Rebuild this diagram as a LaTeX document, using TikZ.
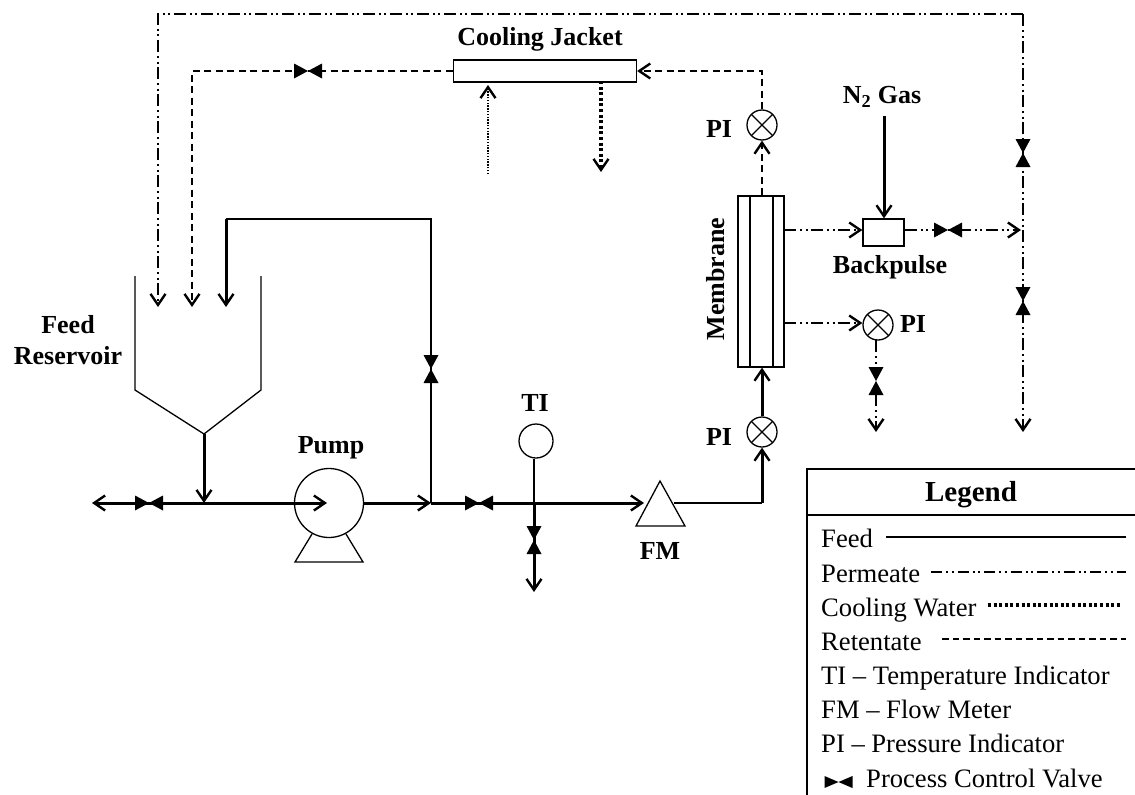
\documentclass[tikz,border=0pt]{standalone}
\usepackage{fontspec}
\setmainfont{Liberation Serif}
\usetikzlibrary{arrows.meta}
\tikzset{
  x=1pt,y=-1pt,
  >={Straight Barb[length=11pt,width=15pt,line width=2.4pt]},
  thickline/.style={line width=3pt},
  thinline/.style={line width=1.5pt},
  shapeline/.style={draw,line width=1.3pt},
  permeate/.style={line width=2.4pt,dash pattern=on 12pt off 4pt on 2pt off 3.5pt on 2pt off 3.5pt},
  retentate/.style={line width=2.3pt,dash pattern=on 7pt off 4.5pt},
  coolthin/.style={line width=1.4pt,dash pattern=on 1.4pt off 1.4pt},
  coolthick/.style={line width=3.2pt,dash pattern=on 3pt off 2.6pt},
  lab/.style={font=\fontsize{26}{29}\selectfont\bfseries,inner sep=0pt},
  leg/.style={font=\fontsize{26.6}{29}\selectfont,inner sep=0pt,anchor=base west},
  pi/.style={circle,shapeline,minimum size=30pt,inner sep=0pt,fill=white,
    path picture={\draw[line width=1.3pt] (path picture bounding box.north west)--(path picture bounding box.south east)
      (path picture bounding box.north east)--(path picture bounding box.south west);}},
  hvalve/.pic={\fill (-14,-7.5)--(14,7.5)--(14,-7.5)--(-14,7.5)--cycle;},
  vvalve/.pic={\fill (-7.5,-14)--(7.5,14)--(-7.5,14)--(7.5,-14)--cycle;},
  lvalve/.pic={\fill (-14,-6)--(14,6)--(14,-6)--(-14,6)--cycle;},
}
\begin{document}
\begin{tikzpicture}
\path[use as bounding box] (0,0) rectangle (1135,795);

% coordinates
\coordinate (topL) at (158,14);
\coordinate (topR) at (1023,14);
\coordinate (permIn) at (158,307);
\coordinate (permEnd) at (1023,432);
\coordinate (retTop) at (762,71);
\coordinate (retL) at (192,71);
\coordinate (retIn) at (192,307);
\coordinate (retnCorner) at (431,219);
\coordinate (retnL) at (226,219);
\coordinate (retnIn) at (226,307);
\coordinate (drain) at (92,503);
\coordinate (apex) at (204,434);
\coordinate (jct) at (204,503);
\coordinate (pumpIn) at (327,503);
\coordinate (tee) at (431,503);
\coordinate (tijct) at (534,503);
\coordinate (tidrain) at (534,592);
\coordinate (fmIn) at (644,503);
\coordinate (fmOut) at (674,503);
\coordinate (elbow) at (762,503);
\coordinate (coolInS) at (488,174);
\coordinate (coolInE) at (488,85);
\coordinate (coolOutS) at (601,81);
\coordinate (coolOutE) at (601,172);
\coordinate (n2) at (884,116);
\coordinate (memP1) at (784,230);
\coordinate (memP2) at (784,323);
\coordinate (rightJ) at (1021,230);
\coordinate (piDrain) at (876,432);
\coordinate (piDrainS) at (876,340);

% equipment
\node[shapeline,minimum width=183pt,minimum height=22pt,inner sep=0pt] (jacket) at (545,71) {};
\node[lab] (jacketlab) at (540,39) {Cooling Jacket};
\node[pi] (piTop) at (762,125) {};
\node[pi] (piBot) at (762,432) {};
\node[pi] (piRight) at (878,325) {};
\node[lab] (piTopLab) at (719,129) {PI};
\node[lab] (piBotLab) at (719,437) {PI};
\node[lab] (piRightLab) at (913,324) {PI};
\node[shapeline,minimum width=46pt,minimum height=171pt,inner sep=0pt] (mem) at (761,281.5) {};
\draw[line width=1.3pt] (750,196)--(750,367) (773,196)--(773,367);
\node[lab,rotate=90] (memlab) at (716,279) {Membrane};
\node[shapeline,minimum width=41pt,minimum height=27pt,inner sep=0pt] (bp) at (883.5,232.5) {};
\node[lab] (bplab) at (890,267) {Backpulse};
\node[lab] (n2lab) at (882,97) {N\textsubscript{2} Gas};
\node[lab,align=center] (feedlab) at (68,340) {Feed\\[2pt]Reservoir};
\node[lab] (pumplab) at (331,448) {Pump};
\node[lab] (tilab) at (535,403) {TI};
\node[lab] (fmlab) at (660,551) {FM};

% reservoir
\draw[line width=1.3pt] (135,276)--(135,390)--(apex)--(261,390)--(261,276);

% pump
\node[circle,shapeline,minimum size=69pt,inner sep=0pt] (pump) at (329,503) {};
\draw[line width=1.3pt] (312,534)--(295,562)--(363,562)--(346,534);

% TI, FM
\node[circle,shapeline,minimum size=34pt,inner sep=0pt] (ti) at (536,441) {};
\draw[line width=1.3pt] (660,481)--(636,526)--(685,526)--cycle;

% permeate
\draw[permeate,->] (topR)--(topL)--(permIn);
\draw[permeate,->] (topR)--(permEnd);
\draw[permeate,->] (memP1)--(bp.west |- memP1);
\draw[permeate,->] (bp.east |- rightJ)--(rightJ);
\draw[permeate,->] (memP2)--(piRight.west |- memP2);
\draw[permeate,->] (piDrainS)--(piDrain);

% retentate
\draw[retentate,->] (piTop.south |- mem.north)--(piTop.south);
\draw[retentate,->] (piTop.north)--(retTop)--(jacket.east);
\draw[retentate,->] (jacket.west)--(retL)--(retIn);

% cooling water
\draw[coolthin,->] (coolInS)--(coolInE);
\draw[coolthick,->] (coolOutS)--(coolOutE);

% feed
\draw[thinline] (tee)--(retnCorner)--(retnL);
\draw[thickline,->] (retnL)--(retnIn);
\draw[thickline,<->] (drain)--(pumpIn);
\draw[thickline,->] (apex)--(jct);
\draw[thickline,->] (pump.east)--(tee);
\draw[thickline,->] (tee)--(fmIn);
\draw[thinline] (ti.south -| tijct)--(tijct);
\draw[thickline,->] (tijct)--(tidrain);
\draw[thinline] (fmOut)--(elbow);
\draw[thickline,->] (elbow)--(piBot.south);
\draw[thickline,->] (piBot.north)--(piBot.north |- mem.south);
\draw[thickline,->] (n2)--(n2 |- bp.north);

% valves
\pic at (308,71) {hvalve};
\pic at (1023,153) {vvalve};
\pic at (1023,301) {vvalve};
\pic at (948,230) {hvalve};
\pic at (876,381) {vvalve};
\pic at (431,369) {vvalve};
\pic at (149,503) {hvalve};
\pic at (479,503) {hvalve};
\pic at (534,540) {vvalve};

% legend
\draw[line width=1.5pt] (807,795)--(807,469)--(1135,469);
\draw[line width=1.5pt] (807,515)--(1135,515);
\node[font=\fontsize{29}{32}\selectfont\bfseries,inner sep=0pt] (legtitle) at (971,495) {Legend};
\node[leg] (l1) at (821,547) {Feed};
\node[leg] (l2) at (821,582) {Permeate};
\node[leg] (l3) at (821,616) {Cooling Water};
\node[leg] (l4) at (821,650) {Retentate};
\node[leg] (l5) at (821,684) {TI – Temperature Indicator};
\node[leg] (l6) at (821,718) {FM – Flow Meter};
\node[leg] (l7) at (821,752) {PI – Pressure Indicator};
\node[leg] (l8) at (866,787) {Process Control Valve};
\draw[line width=1.5pt] (886,537)--(1126,537);
\draw[line width=2pt,dash pattern=on 11pt off 4pt on 2pt off 3.5pt on 2pt off 4pt] (931,572)--(1126,572);
\draw[coolthick] (988,605)--(1122,605);
\draw[line width=1.8pt,dash pattern=on 6.5pt off 4pt] (942,639)--(1126,639);
\pic at (838.5,782) {lvalve};
\end{tikzpicture}
\end{document}
